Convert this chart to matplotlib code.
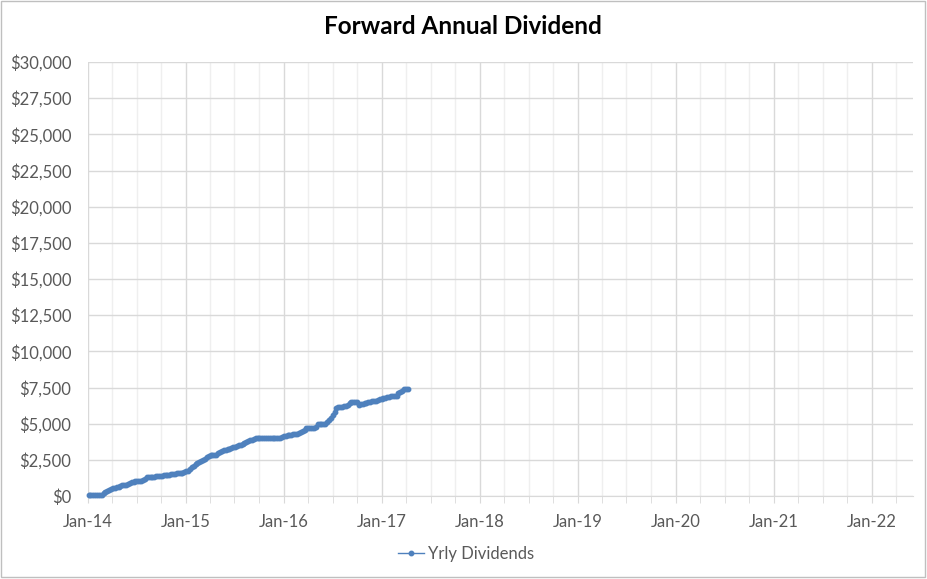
import datetime as dt
import matplotlib
matplotlib.use("Agg")
import matplotlib.pyplot as plt
import matplotlib.dates as mdates
from matplotlib.ticker import FuncFormatter, MultipleLocator
from matplotlib.patches import Rectangle

# weekly readings of the forward annual dividend, starting first Friday of 2014
start_date = dt.date(2014, 1, 3)
yrly_dividends = [
    50, 50, 60, 90, 90,
    90, 90, 90, 200,
    300, 340, 415, 450,
    530, 560, 640, 650,
    700, 780, 780, 780,
    830, 875, 970, 1000,
    1060, 1060, 1060, 1060,
    1100, 1200, 1290, 1300,
    1320, 1335, 1340, 1350,
    1360, 1380, 1400, 1420,
    1440, 1450, 1480, 1500,
    1520, 1540, 1560, 1580,
    1590, 1620, 1660, 1700,
    1760, 1850, 1980, 2100,
    2220, 2300, 2380, 2450,
    2520, 2580, 2675, 2760,
    2810, 2810, 2810, 2850,
    2950, 3040, 3100, 3150,
    3200, 3230, 3280, 3330,
    3370, 3400, 3450, 3500,
    3525, 3580, 3640, 3700,
    3780, 3840, 3900, 3960,
    3990, 4010, 4030, 4030,
    4030, 4030, 4030, 4030,
    4030, 4030, 4030, 4030,
    4030, 4040, 4080, 4125,
    4150, 4200, 4240, 4250,
    4260, 4280, 4300, 4330,
    4450, 4490, 4550, 4700,
    4700, 4700, 4700, 4710,
    4800, 4950, 4970, 4980,
    4990, 5000, 5100, 5250,
    5400, 5600, 5800, 6060,
    6150, 6170, 6180, 6190,
    6200, 6300, 6400, 6480,
    6520, 6520, 6500, 6290,
    6330, 6370, 6410, 6440,
    6470, 6510, 6560, 6590,
    6600, 6650, 6700, 6730,
    6740, 6780, 6820, 6860,
    6880, 6900, 6910, 6920,
    7100, 7170, 7250, 7380,
    7400, 7420,
]
dates = [start_date + dt.timedelta(weeks=i) for i in range(len(yrly_dividends))]

x_start = dt.date(2014, 1, 1)
x_end = dt.date(2022, 6, 3)
y_max = 30000
y_step = 2500

plt.rcParams['font.family'] = ['Lato', 'DejaVu Sans']

fig = plt.figure(figsize=(9.28, 5.79), dpi=100)
ax = fig.add_axes([88 / 928, 1 - 496 / 579, (913 - 88) / 928, (496 - 62) / 579])

ax.plot(dates, yrly_dividends, '-o', color='#4f81bd', linewidth=1.0,
        markersize=3.2, label='Yrly Dividends', zorder=3, clip_on=False)

ax.set_xlim(x_start, x_end)
ax.set_ylim(0, y_max)

ax.xaxis.set_major_locator(mdates.YearLocator())
ax.xaxis.set_major_formatter(mdates.DateFormatter('%b-%y'))
ax.xaxis.set_minor_locator(mdates.MonthLocator(bymonth=[4, 7, 10]))
ax.yaxis.set_major_locator(MultipleLocator(y_step))
ax.yaxis.set_major_formatter(FuncFormatter(lambda v, p: f"${v:,.0f}"))

ax.grid(True, which='major', color='#d9d9d9', linewidth=1)
ax.grid(True, which='minor', axis='x', color='#efefef', linewidth=1)
ax.set_axisbelow(True)

for side in ['top', 'right', 'left']:
    ax.spines[side].set_visible(False)
ax.spines['bottom'].set_color('#d9d9d9')

ax.tick_params(axis='x', which='both', length=5, color='#d9d9d9',
               labelsize=12, labelcolor='#595959', pad=8)
ax.tick_params(axis='y', length=0, labelsize=12, labelcolor='#595959', pad=12)

fig.text(0.499, 1 - 27 / 579, 'Forward Annual Dividend', ha='center', va='center',
         fontsize=17.5, fontweight='bold', color='black')

fig.legend(loc='center', bbox_to_anchor=(466 / 928, 1 - 554 / 579), frameon=False,
           fontsize=12, labelcolor='#595959', handlelength=1.6, handletextpad=0.25)

fig.patches.append(Rectangle((0.5 / 928, 1 - 577 / 579), 925 / 928, 576 / 579,
                             transform=fig.transFigure, fill=False,
                             edgecolor='#bfbfbf', linewidth=1))

fig.savefig('out.png', dpi=100)
